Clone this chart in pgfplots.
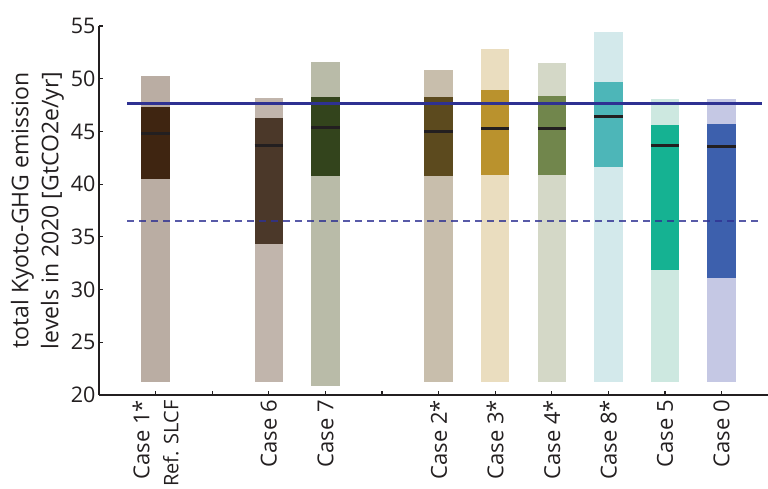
\documentclass[border=0pt]{standalone}
\usepackage{fontspec}
\setmainfont{Open Sans}
\usepackage{pgfplots}
\pgfplotsset{compat=1.18}
\definecolor{axiscol}{HTML}{231F20}
\definecolor{medcol}{HTML}{231F20}
\definecolor{bluecol}{HTML}{2E3192}
\definecolor{aL}{HTML}{BAADA3}\definecolor{aD}{HTML}{3F2511}
\definecolor{bL}{HTML}{C1B5AC}\definecolor{bD}{HTML}{4B3829}
\definecolor{cL}{HTML}{B9BBA8}\definecolor{cD}{HTML}{33441C}
\definecolor{dL}{HTML}{C8BEAC}\definecolor{dD}{HTML}{5C4A1E}
\definecolor{eL}{HTML}{EADDBF}\definecolor{eD}{HTML}{BA922D}
\definecolor{fL}{HTML}{D4D8C7}\definecolor{fD}{HTML}{71864C}
\definecolor{gL}{HTML}{D3E9EB}\definecolor{gD}{HTML}{4DB6B8}
\definecolor{hL}{HTML}{CDE8E0}\definecolor{hD}{HTML}{15B292}
\definecolor{iL}{HTML}{C5C8E4}\definecolor{iD}{HTML}{3D60AD}
% #1 left, #2 right, #3 low, #4 q1, #5 median, #6 q3, #7 high, #8 light, #9 dark
\newcommand{\casebar}[9]{%
  \addplot[draw=none, fill=#8, forget plot] coordinates {(#1,#3) (#2,#3) (#2,#7) (#1,#7)} -- cycle;
  \addplot[draw=none, fill=#9, forget plot] coordinates {(#1,#4) (#2,#4) (#2,#6) (#1,#6)} -- cycle;
  \addplot[draw=medcol, line width=2.7pt, forget plot] coordinates {(#1,#5) (#2,#5)};
}
\begin{document}
\begin{tikzpicture}
\begin{axis}[
  name=ax,
  scale only axis,
  width=669pt, height=369pt,
  xmin=0, xmax=11.82,
  ymin=20, ymax=55,
  axis x line*=bottom, axis y line*=left,
  axis line style={-, line width=1.6pt, color=axiscol},
  tick style={line width=1.2pt, color=axiscol},
  major tick length=4pt,
  tick align=inside,
  ytick={20,25,...,55},
  xtick={1,2,3,4,5,6,7,8,9,10,11},
  xticklabels={{Case 1*\\{\fontsize{20}{22}\selectfont Ref. SLCF}},{},Case 6,Case 7,{},Case 2*,Case 3*,Case 4*,Case 8*,Case 5,Case 0},
  xticklabel style={rotate=90, anchor=east, align=right, inner sep=5pt, font=\fontsize{22}{29}\selectfont, text=axiscol},
  yticklabel style={font=\fontsize{21.5}{22}\selectfont, text=axiscol},
  /pgf/number format/assume math mode=true,
  ylabel={total Kyoto-GHG emission\\levels in 2020 [GtCO2e/yr]},
  ylabel style={align=center, font=\fontsize{23}{30}\selectfont, text=axiscol},
  clip=false,
]
\casebar{0.75}{1.25}{21.26}{40.49}{44.83}{47.32}{50.24}{aL}{aD}
\casebar{2.75}{3.25}{21.26}{34.33}{43.69}{46.28}{48.21}{bL}{bD}
\casebar{3.75}{4.25}{20.85}{40.81}{45.39}{48.27}{51.55}{cL}{cD}
\casebar{5.75}{6.25}{21.26}{40.78}{45.00}{48.27}{50.80}{dL}{dD}
\casebar{6.75}{7.25}{21.26}{40.87}{45.30}{48.94}{52.80}{eL}{eD}
\casebar{7.75}{8.25}{21.26}{40.87}{45.30}{48.36}{51.50}{fL}{fD}
\casebar{8.75}{9.25}{21.26}{41.63}{46.44}{49.70}{54.47}{gL}{gD}
\casebar{9.75}{10.25}{21.26}{31.86}{43.69}{45.60}{48.08}{hL}{hD}
\casebar{10.75}{11.25}{21.26}{31.10}{43.59}{45.70}{48.08}{iL}{iD}
\addplot[draw=bluecol, line width=2.2pt] coordinates {(0.5,47.64) (11.72,47.64)};
\addplot[draw=bluecol, line width=1.5pt, dash pattern=on 7pt off 5pt, opacity=0.8] coordinates {(0.5,36.51) (11.72,36.51)};
\end{axis}
\pgfresetboundingbox
\path[use as bounding box] ([xshift=-99pt,yshift=-94pt]ax.south west) rectangle ([yshift=26pt]ax.north east);
\end{tikzpicture}
\end{document}
